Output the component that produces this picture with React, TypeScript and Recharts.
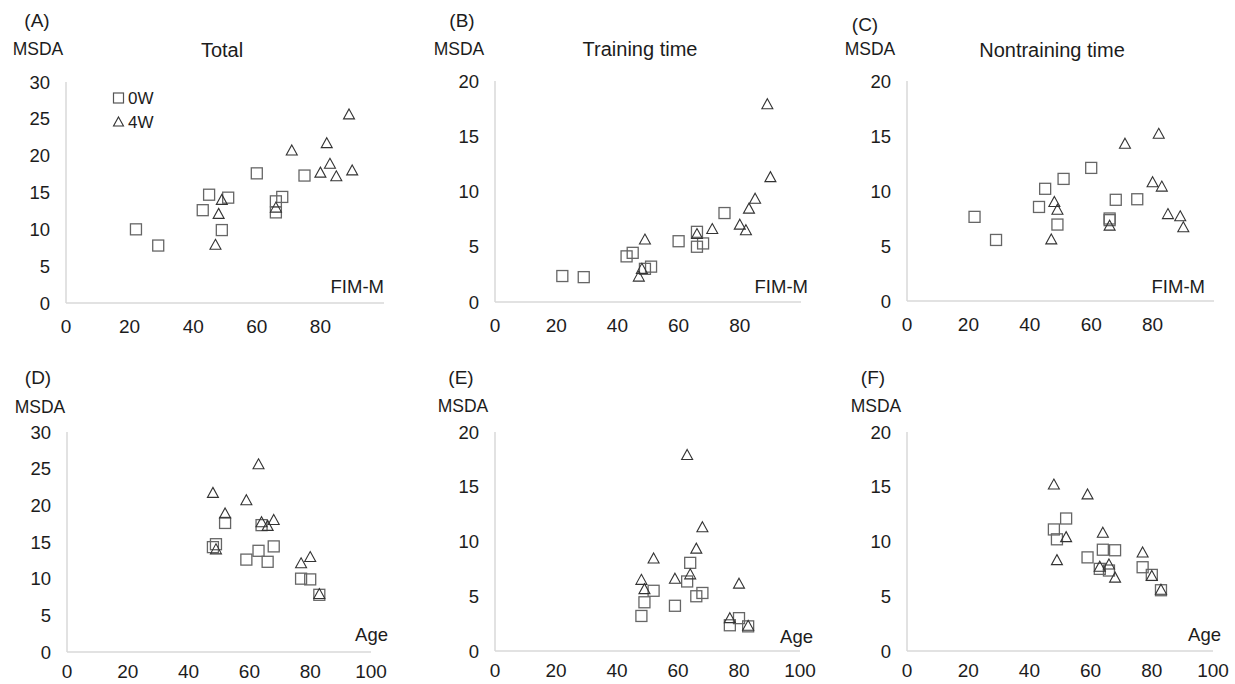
import React from 'react';
import { ScatterChart, Scatter, XAxis, YAxis } from 'recharts';

// one entry per patient, sorted by age
const age = [48, 49, 52, 59, 63, 64, 66, 68, 77, 80, 83];

// 0W (admission)
const fim0W = [51, 45, 60, 43, 66, 75, 66, 68, 22, 49, 29];
const total0W = [14.3, 14.7, 17.6, 12.6, 13.8, 17.3, 12.3, 14.4, 10.0, 9.9, 7.8];
const training0W = [3.2, 4.45, 5.5, 4.13, 6.35, 8.05, 5.0, 5.3, 2.35, 3.0, 2.25];
const nontraining0W = [11.1, 10.2, 12.1, 8.55, 7.5, 9.25, 7.35, 9.2, 7.65, 6.95, 5.55];

// 4W
const fim4W = [82, 49, 83, 71, 89, 80, 85, 90, 48, 66, 47];
const total4W = [21.7, 14.0, 18.9, 20.7, 25.6, 17.7, 17.2, 18.0, 12.1, 12.95, 7.9];
const training4W = [6.5, 5.65, 8.45, 6.6, 17.9, 7.0, 9.35, 11.3, 3.0, 6.15, 2.3];
const nontraining4W = [15.2, 8.3, 10.4, 14.3, 7.7, 10.8, 7.9, 6.7, 9.0, 6.85, 5.6];

const ticks30 = [0, 5, 10, 15, 20, 25, 30];
const ticks20 = [0, 5, 10, 15, 20];
const fimTicks = [0, 20, 40, 60, 80];
const ageTicks = [0, 20, 40, 60, 80, 100];

const FONT = '"Liberation Sans", Arial, Helvetica, sans-serif';
const INK = '#1c1c1c';
const AXIS = '#d9d9d9';

const toPoints = (xs: number[], ys: number[]) => xs.map((x, i) => ({ x, y: ys[i] }));

const SquareMark = (p: any) => (
  <rect x={p.cx - 5.5} y={p.cy - 5.5} width={11} height={11} fill="none" stroke="#666" strokeWidth={1.3} />
);

const TriangleMark = (p: any) => (
  <path
    d={`M${p.cx},${p.cy - 5.5}L${p.cx + 5.5},${p.cy + 4.5}L${p.cx - 5.5},${p.cy + 4.5}Z`}
    fill="none"
    stroke="#333"
    strokeWidth={1.1}
  />
);

type Panel = {
  tag: string;
  title?: string;
  xName: string;
  xs0: number[];
  ys0: number[];
  xs4: number[];
  ys4: number[];
  yTicks: number[];
  xTicks: number[];
  // plot rectangle on the page
  left: number;
  right: number;
  top: number;
  bottom: number;
  xTickGap: number;
  tagPos: [number, number];
  msdaPos: [number, number];
  titlePos?: [number, number];
  xNamePos: [number, number];
  legend?: boolean;
};

const panels: Panel[] = [
  {
    tag: '(A)', title: 'Total', xName: 'FIM-M',
    xs0: fim0W, ys0: total0W, xs4: fim4W, ys4: total4W,
    yTicks: ticks30, xTicks: fimTicks,
    left: 66, right: 384, top: 82, bottom: 303, xTickGap: 17,
    tagPos: [37, 20], msdaPos: [38, 50], titlePos: [222, 50], xNamePos: [384, 287],
    legend: true,
  },
  {
    tag: '(B)', title: 'Training time', xName: 'FIM-M',
    xs0: fim0W, ys0: training0W, xs4: fim4W, ys4: training4W,
    yTicks: ticks20, xTicks: fimTicks,
    left: 495, right: 801, top: 81, bottom: 302, xTickGap: 17,
    tagPos: [462, 20], msdaPos: [459, 50], titlePos: [640, 49], xNamePos: [808, 287],
  },
  {
    tag: '(C)', title: 'Nontraining time', xName: 'FIM-M',
    xs0: fim0W, ys0: nontraining0W, xs4: fim4W, ys4: nontraining4W,
    yTicks: ticks20, xTicks: fimTicks,
    left: 907, right: 1214, top: 81, bottom: 301, xTickGap: 17,
    tagPos: [865, 24], msdaPos: [870, 50], titlePos: [1052, 50], xNamePos: [1205, 287],
  },
  {
    tag: '(D)', xName: 'Age',
    xs0: age, ys0: total0W, xs4: age, ys4: total4W,
    yTicks: ticks30, xTicks: ageTicks,
    left: 67, right: 371, top: 432, bottom: 652, xTickGap: 13,
    tagPos: [38, 377], msdaPos: [40, 408], xNamePos: [388, 635],
  },
  {
    tag: '(E)', xName: 'Age',
    xs0: age, ys0: training0W, xs4: age, ys4: training4W,
    yTicks: ticks20, xTicks: ageTicks,
    left: 495, right: 800, top: 432, bottom: 651, xTickGap: 13,
    tagPos: [461, 377], msdaPos: [463, 407], xNamePos: [813, 637],
  },
  {
    tag: '(F)', xName: 'Age',
    xs0: age, ys0: nontraining0W, xs4: age, ys4: nontraining4W,
    yTicks: ticks20, xTicks: ageTicks,
    left: 907, right: 1213, top: 432, bottom: 651, xTickGap: 13,
    tagPos: [873, 377], msdaPos: [876, 407], xNamePos: [1221, 635],
  },
];

const Txt = ({ pos, size, align = 'center', children }: any) => (
  <div
    style={{
      position: 'absolute',
      left: pos[0],
      top: pos[1],
      transform: align === 'right' ? 'translate(-100%, -50%)' : align === 'left' ? 'translate(0, -50%)' : 'translate(-50%, -50%)',
      fontSize: size,
      lineHeight: 1,
      whiteSpace: 'nowrap',
      color: INK,
    }}
  >
    {children}
  </div>
);

const Y_W = 60;
const X_H = 40;
const PAD_R = 30;

const PanelChart = ({ p }: { p: Panel }) => {
  const chartLeft = p.left - Y_W;
  const chartTop = p.top - 15;
  const width = p.right - p.left + Y_W + PAD_R;
  const height = p.bottom - p.top + 15 + X_H;
  return (
    <>
      <div style={{ position: 'absolute', left: chartLeft, top: chartTop }}>
        <ScatterChart width={width} height={height} margin={{ top: 15, right: PAD_R, bottom: 0, left: 0 }}>
          <XAxis
            type="number"
            dataKey="x"
            domain={[0, 100]}
            ticks={p.xTicks}
            height={X_H}
            axisLine={{ stroke: AXIS, strokeWidth: 1.5 }}
            tickLine={false}
            tickSize={0}
            tickMargin={p.xTickGap}
            tick={{ fill: INK, fontSize: 19 }}
            interval={0}
          />
          <YAxis
            type="number"
            dataKey="y"
            domain={[0, p.yTicks[p.yTicks.length - 1]]}
            ticks={p.yTicks}
            width={Y_W}
            axisLine={{ stroke: AXIS, strokeWidth: 1.5 }}
            tickLine={false}
            tickSize={0}
            tickMargin={16}
            tick={{ fill: INK, fontSize: 18.5 }}
            interval={0}
          />
          <Scatter name="0W" data={toPoints(p.xs0, p.ys0)} shape={SquareMark} isAnimationActive={false} />
          <Scatter name="4W" data={toPoints(p.xs4, p.ys4)} shape={TriangleMark} isAnimationActive={false} />
        </ScatterChart>
      </div>
      <Txt pos={p.tagPos} size={19}>{p.tag}</Txt>
      <Txt pos={p.msdaPos} size={17.5}>MSDA</Txt>
      {p.title && <Txt pos={p.titlePos} size={20}>{p.title}</Txt>}
      <Txt pos={p.xNamePos} size={18.5} align="right">{p.xName}</Txt>
      {p.legend && (
        <>
          <svg style={{ position: 'absolute', left: 112, top: 91 }} width={14} height={38}>
            <rect x={1.5} y={2} width={10} height={10} fill="none" stroke="#555" strokeWidth={1.2} />
            <path d="M6.5,26L11.5,35L1.5,35Z" fill="none" stroke="#333" strokeWidth={1.1} />
          </svg>
          <Txt pos={[128, 98]} size={17} align="left">0W</Txt>
          <Txt pos={[128, 122]} size={17} align="left">4W</Txt>
        </>
      )}
    </>
  );
};

export default function App() {
  return (
    <div
      style={{
        position: 'absolute',
        left: 0,
        top: 0,
        width: 1235,
        height: 684,
        background: '#fff',
        fontFamily: FONT,
        overflow: 'hidden',
      }}
    >
      {panels.map((p) => (
        <PanelChart key={p.tag} p={p} />
      ))}
    </div>
  );
}
